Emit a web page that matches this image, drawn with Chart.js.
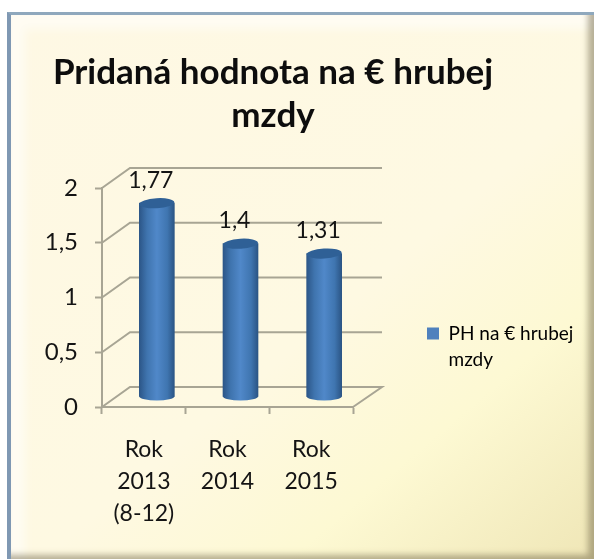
<!DOCTYPE html>
<html>
<head>
<meta charset="utf-8">
<title>Pridaná hodnota na € hrubej mzdy</title>
<script src="https://cdn.jsdelivr.net/npm/chart.js@4"></script>
<style>
    html, body { margin: 0; padding: 0; background: #fff; overflow: hidden; }
    #frame {
        position: absolute; left: 7px; top: 12px; width: 583px; height: 547px;
        border-top: 3px solid #8fa8bd; border-left: 4px solid #7f98b3; border-right: 0; border-bottom: 0;
        background: linear-gradient(140deg, #fef8e4 0%, #fef9e2 55%, #fdf9d3 75%, #efe6b6 100%);
        box-shadow: inset -6px -7px 6px rgba(110, 100, 70, .5), inset 14px 14px 10px rgba(255, 255, 255, .55);
    }
    canvas { position: absolute; left: 0; top: 0; }
</style>
</head>
<body>
<div id="frame"></div>
<canvas id="chart" width="594" height="559"></canvas>
<script>
const categories = [['Rok', '2013', '(8-12)'], ['Rok', '2014'], ['Rok', '2015']];
const seriesLabel = ['PH na € hrubej', 'mzdy'];
const seriesValues = [1.77, 1.4, 1.31];
const titleLines = ['Pridaná hodnota na € hrubej', 'mzdy'];

// how far the back wall sits behind the front axes, in px
const DEPTH_X = 28;
const DEPTH_Y = 20;
const GRID = '#a8a594';
const TEXT = '#141414';

const comma = v => String(v).replace('.', ',');

// Horizontal shading so a bar reads as a cylinder
const barGradient = (c, x, half) => {
    const g = c.createLinearGradient(x - half, 0, x + half, 0);
    g.addColorStop(0, '#2c5688');
    g.addColorStop(0.22, '#3f74ae');
    g.addColorStop(0.5, '#5088c9');
    g.addColorStop(0.8, '#3f75b0');
    g.addColorStop(1, '#2b5585');
    return g;
};

const wall3d = {
    id: 'wall3d',
    afterLayout(chart) {
        // title and legend do not sit where the layout would put them
        chart.titleBlock.left = 0;
        chart.titleBlock.right = 546;
        const lg = chart.legend;
        lg.left = 417;
        lg.top = 314;
        lg.right = 594;
        lg.bottom = 400;
    },
    beforeDatasetsDraw(chart) {
        const { ctx, chartArea: area, scales } = chart;
        const left = area.left, right = area.right;

        ctx.save();
        ctx.strokeStyle = GRID;
        ctx.lineWidth = 2;
        scales.y.ticks.forEach(t => {
            const y = scales.y.getPixelForValue(t.value);
            ctx.beginPath();
            ctx.moveTo(left, y);
            ctx.lineTo(left + DEPTH_X, y - DEPTH_Y);
            ctx.lineTo(right + DEPTH_X + 1, y - DEPTH_Y);
            if (t.value === 0) ctx.lineTo(right, y);
            ctx.stroke();
        });
        ctx.restore();

        // bars stand in the middle of the floor
        ctx.save();
        ctx.translate(DEPTH_X / 2 - 1, -DEPTH_Y / 2);
        const meta = chart.getDatasetMeta(0);
        meta.data.forEach(bar => {
            ctx.fillStyle = barGradient(ctx, bar.x, bar.width / 2);
            ctx.beginPath();
            ctx.ellipse(bar.x, bar.base, bar.width / 2, 4, 0, 0, Math.PI * 2);
            ctx.fill();
        });
    },
    afterDatasetsDraw(chart) {
        const { ctx } = chart;
        const meta = chart.getDatasetMeta(0);
        meta.data.forEach((bar, i) => {
            ctx.fillStyle = '#2f6096';
            ctx.beginPath();
            ctx.ellipse(bar.x, bar.y, bar.width / 2, 5, -0.06, 0, Math.PI * 2);
            ctx.fill();

            ctx.fillStyle = TEXT;
            ctx.font = '23px Lato';
            ctx.textAlign = 'center';
            ctx.textBaseline = 'middle';
            ctx.fillText(comma(seriesValues[i]), bar.x - 6, bar.y - 23);
        });
        ctx.restore();
    }
};

new Chart(document.getElementById('chart'), {
    type: 'bar',
    plugins: [wall3d],
    data: {
        labels: categories,
        datasets: [{
            label: seriesLabel,
            data: seriesValues,
            barThickness: 35,
            borderWidth: 0,
            clip: false,
            backgroundColor: c => {
                if (!c.chart.chartArea || c.dataIndex === undefined) return '#4f81bd';
                return barGradient(c.chart.ctx, c.chart.scales.x.getPixelForValue(c.dataIndex), 17.5);
            }
        }]
    },
    options: {
        responsive: false,
        animation: false,
        layout: { padding: { left: 42, right: 241, top: 0, bottom: 0 } },
        plugins: {
            tooltip: { enabled: false },
            title: {
                display: true,
                text: titleLines,
                color: '#0d0d0d',
                font: { family: 'Lato', size: 35, weight: 'bold', lineHeight: 43 / 35 },
                padding: { top: 51, bottom: 51 }
            },
            legend: {
                position: 'chartArea',
                align: 'start',
                labels: {
                    boxWidth: 12,
                    boxHeight: 12,
                    color: TEXT,
                    font: { family: 'Lato', size: 19, lineHeight: 26 / 19 },
                    generateLabels: chart => [{
                        text: seriesLabel,
                        fillStyle: '#4f81bd',
                        strokeStyle: '#4f81bd',
                        lineWidth: 0,
                        datasetIndex: 0
                    }]
                }
            }
        },
        scales: {
            x: {
                afterFit: s => { s.height = 152; },
                border: { color: GRID, width: 2 },
                grid: { drawOnChartArea: false, tickLength: 7, tickColor: GRID, tickWidth: 2, offset: true },
                ticks: {
                    color: TEXT,
                    padding: 20,
                    maxRotation: 0,
                    autoSkip: false,
                    font: { family: 'Lato', size: 23, lineHeight: 32 / 23 }
                }
            },
            y: {
                min: 0,
                max: 2,
                afterFit: s => { s.width = 60; },
                border: { color: GRID, width: 2 },
                grid: { drawOnChartArea: false, tickLength: 7, tickColor: GRID, tickWidth: 2 },
                ticks: {
                    stepSize: 0.5,
                    color: TEXT,
                    padding: 17,
                    callback: v => comma(v),
                    font: { family: 'Lato', size: 24 }
                }
            }
        }
    }
});
</script>
</body>
</html>
